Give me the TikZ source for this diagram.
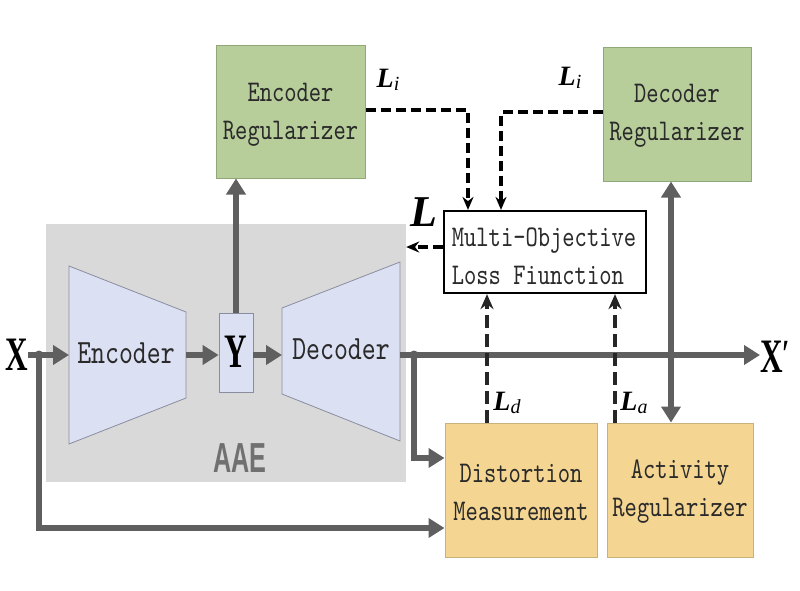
\documentclass[tikz,border=0pt]{standalone}
\usepackage{fontspec}
\usetikzlibrary{arrows.meta}
\newfontfamily\monofnt[FakeStretch=0.78]{lmmono10-regular.otf}
\newfontfamily\aaefnt[FakeStretch=0.6]{Liberation Sans Bold}
\newfontfamily\bigser[FakeStretch=0.65]{Liberation Serif Bold}
\newfontfamily\lserbi{Liberation Serif Bold Italic}
\newfontfamily\lseri{Liberation Serif Italic}
\definecolor{agray}{HTML}{5F5F5F}
\definecolor{grfill}{HTML}{B7CE9B}
\definecolor{grline}{HTML}{90A878}
\definecolor{yefill}{HTML}{F4D591}
\definecolor{yeline}{HTML}{C9B17D}
\definecolor{lavfill}{HTML}{DBE0F3}
\definecolor{lavline}{HTML}{8A8D9F}
\definecolor{bgbox}{HTML}{D9D9D9}
\definecolor{aaetxt}{HTML}{707070}
\definecolor{btxt}{HTML}{2A2A2A}
\tikzset{
  boxtxt/.style={font=\monofnt\fontsize{30}{38}\selectfont, text=btxt, align=center, inner sep=0pt},
  greenbox/.style={boxtxt, draw=grline, fill=grfill, line width=1pt},
  yellowbox/.style={boxtxt, draw=yeline, fill=yefill, line width=1pt},
  mobox/.style={boxtxt, draw=black, fill=white, line width=2.2pt},
  arr/.style={draw=agray, line width=5.5pt, -{Triangle[length=16pt,width=19pt]}},
  dsh/.style={draw=black, line width=4.5pt, dash pattern=on 10pt off 5pt, -{Stealth[length=13pt,width=11pt]}},
  dshup/.style={draw=black!85, line width=3.6pt, dash pattern=on 13pt off 6pt, -{Stealth[length=15pt,width=13pt]}},
  bigsym/.style={font=\bigser\fontsize{48}{50}\selectfont, text=black, inner sep=0pt},
  lsym/.style={inner sep=0pt, text=black},
  txtonly/.style={boxtxt},
}
\newcommand{\Lsub}[3]{{\fontsize{#2}{#2}\selectfont\lserbi L}\raisebox{-0.28em}{\fontsize{#3}{#3}\selectfont\lseri #1}}
\begin{document}
\begin{tikzpicture}[x=1pt,y=-1pt]
\useasboundingbox (0,0) rectangle (800,590);
% AAE background
\node[fill=bgbox, minimum width=360pt, minimum height=258pt, inner sep=0pt] (aae) at (226,353) {};
\node[font=\aaefnt\fontsize{42}{44}\selectfont, text=aaetxt, inner sep=0pt] (aaelab) at (240,458) {AAE};
% encoder / decoder trapezoids
\draw[draw=lavline, fill=lavfill, line width=0.8pt] (69,266) -- (186,312) -- (186,398) -- (69,444) -- cycle;
\draw[draw=lavline, fill=lavfill, line width=0.8pt] (282,308) -- (400,262) -- (400,441) -- (282,394) -- cycle;
\node[font=\monofnt\fontsize{34}{36}\selectfont, text=btxt, inner sep=0pt] (enc) at (126,353) {Encoder};
\node[font=\monofnt\fontsize{34}{36}\selectfont, text=btxt, inner sep=0pt] (dec) at (341,349) {Decoder};
\coordinate (encL) at (69,355);
\coordinate (encR) at (186,355);
\coordinate (decL) at (282,355);
\coordinate (decR) at (400,355);
% Y box
\node[draw=lavline, fill=lavfill, line width=0.8pt, minimum width=34pt, minimum height=79pt, inner sep=0pt] (ybox) at (236,353) {};
\node[bigsym] (ylab) at (236,352) {Y};
% boxes
\node[greenbox, minimum width=149pt, minimum height=133pt] (encreg) at (290.5,111.5) {};
\node[txtonly] (encregt) at (290.5,115) {Encoder\\Regularizer};
\node[greenbox, minimum width=148pt, minimum height=134pt] (decreg) at (677,114) {};
\node[txtonly] (decregt) at (677,116) {Decoder\\Regularizer};
\node[mobox, minimum width=202pt, minimum height=82pt] (mo) at (545,252) {};
\node[txtonly, align=left] (mot) at (544,256) {Multi-Objective\\Loss Fiunction};
\node[yellowbox, minimum width=152pt, minimum height=134pt] (dist) at (521,490) {};
\node[txtonly] (distt) at (521,492) {Distortion\\Measurement};
\node[yellowbox, minimum width=146pt, minimum height=134pt] (act) at (680,490) {};
\node[txtonly] (actt) at (680,492) {Activity\\Regularizer};
% X labels
\node[bigsym, anchor=east] (xin) at (28,355) {X};
\node[bigsym, anchor=west] (xout) at (760,357) {X\raisebox{0.1em}{\fontsize{40}{40}\selectfont\bigser ′}};
% junctions
\coordinate (j1) at (39,355);
\coordinate (j2) at (414,355);
\coordinate (j3) at (671,355);
% gray arrows
\draw[arr] (xin.east |- encL) -- (encL);
\draw[arr] (encR) -- (encR -| ybox.west);
\draw[arr] (decL -| ybox.east) -- (decL);
\draw[arr] (ybox.north) -- (ybox.north |- encreg.south);
\draw[arr] (decR) -- (xout.west |- decR);
\draw[arr] (j1) |- ([yshift=-38pt]dist.west);
\draw[arr] (j2) |- ([yshift=32pt]dist.west);
\draw[arr] (j3) -- (j3 |- decreg.south);
\draw[arr] (j3) -- (j3 |- act.north);
\fill[agray] (j1) circle (4.5pt);
\fill[agray] (j2) circle (4.5pt);
\fill[agray] (j3) circle (4.5pt);
% dashed loss arrows
\draw[dsh] ([yshift=1.5pt]encreg.east) -| ([xshift=-77pt]mo.north);
\draw[dsh] ([yshift=2pt]decreg.west) -| ([xshift=-44pt]mo.north);
\draw[dsh] (mo.west |- 0,247) -- (aae.east |- 0,247);
\draw[dshup] ([xshift=-34pt]dist.north) -- ([xshift=-34pt]dist.north |- mo.south);
\draw[dshup] ([xshift=-65pt]act.north) -- ([xshift=-65pt]act.north |- mo.south);
% loss labels
\node[lsym] (li1) at (388,80) {\Lsub{i}{28}{20}};
\node[lsym] (li2) at (570,78) {\Lsub{i}{28}{20}};
\node[lsym] (lmain) at (424,212) {{\fontsize{44}{44}\selectfont\lserbi L}};
\node[lsym] (ld) at (507,403) {\Lsub{d}{28}{20}};
\node[lsym] (la) at (634,403) {\Lsub{a}{28}{20}};
\end{tikzpicture}
\end{document}
